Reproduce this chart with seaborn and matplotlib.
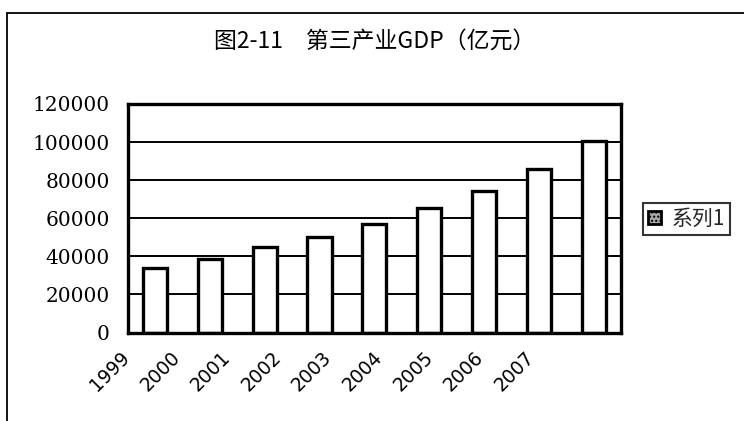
import matplotlib
matplotlib.use('Agg')
import matplotlib.pyplot as plt
import seaborn as sns
import pandas as pd
import numpy as np
from matplotlib.patches import Patch, Rectangle

# ---- data ----
years = ['1999', '2000', '2001', '2002', '2003', '2004', '2005', '2006', '2007']
gdp = [33900, 38700, 44700, 50300, 56800, 65500, 74300, 85800, 100700]
series_name = '系列1'
title_text = '图2-11　第三产业GDP（亿元）'
y_ticks = [0, 20000, 40000, 60000, 80000, 100000, 120000]

sns.set_theme(style='white')
plt.rcParams['font.family'] = ['Noto Sans CJK SC', 'DejaVu Sans']

W, H = 744, 421
fig = plt.figure(figsize=(W / 100, H / 100), dpi=100)
ax = fig.add_axes([127.7 / W, 1 - 332.5 / H, (621 - 127.7) / W, (332.5 - 104) / H])

df = pd.DataFrame({'year': years, 'gdp': gdp})
sns.barplot(data=df, x='year', y='gdp', color='white', saturation=1,
            edgecolor='black', linewidth=2.4, width=0.44, ax=ax)

ax.set_xlim(-0.5, len(years) - 0.5)
ax.set_ylim(0, 120000)
ax.set_yticks(y_ticks)
ax.set_yticklabels([str(v) for v in y_ticks], family='DejaVu Serif', fontsize=14.5, color='black')
ax.yaxis.grid(True, color='black', lw=1.4)
ax.xaxis.grid(False)
ax.set_axisbelow(True)
ax.set_xlabel('')
ax.set_ylabel('')

# rotated category labels (Excel-like placement)
label_step = 50.6 / 54.8
label_start = (133 - 127.7) / 54.8 - 0.5
ax.set_xticks(label_start + np.arange(len(years)) * label_step)
ax.set_xticklabels(years, rotation=45, ha='right', family='DejaVu Sans', fontsize=13.5, color='black')
ax.tick_params(axis='x', length=0, pad=11)
ax.tick_params(axis='y', length=0, pad=13)

for s in ax.spines.values():
    s.set_visible(True)
    s.set_color('black')
    s.set_linewidth(2.4)

# outer chart frame
fig.add_artist(Rectangle((7 / W, -0.1), 1.2, (1 - 13 / H) + 0.1, transform=fig.transFigure,
                         fill=False, edgecolor='black', lw=1.3, clip_on=False))

fig.text(375 / W, 1 - 41 / H, title_text, ha='center', va='center', fontsize=16.5,
         family=['Noto Sans CJK SC', 'DejaVu Sans'], color='black')

handle = Patch(facecolor='#a8a8a8', edgecolor='black', lw=2, hatch='....')
leg = fig.legend(handles=[handle], labels=[series_name], loc='center left',
                 bbox_to_anchor=(643 / W, 1 - 219 / H), frameon=True, fancybox=False,
                 edgecolor='black', fontsize=15, handlelength=0.6, handleheight=0.6,
                 borderpad=0.25, handletextpad=0.5, borderaxespad=0)
leg.get_frame().set_linewidth(1.5)
for t in leg.get_texts():
    t.set_family(['Noto Sans CJK SC', 'DejaVu Sans'])

fig.savefig('out.png', dpi=100)
